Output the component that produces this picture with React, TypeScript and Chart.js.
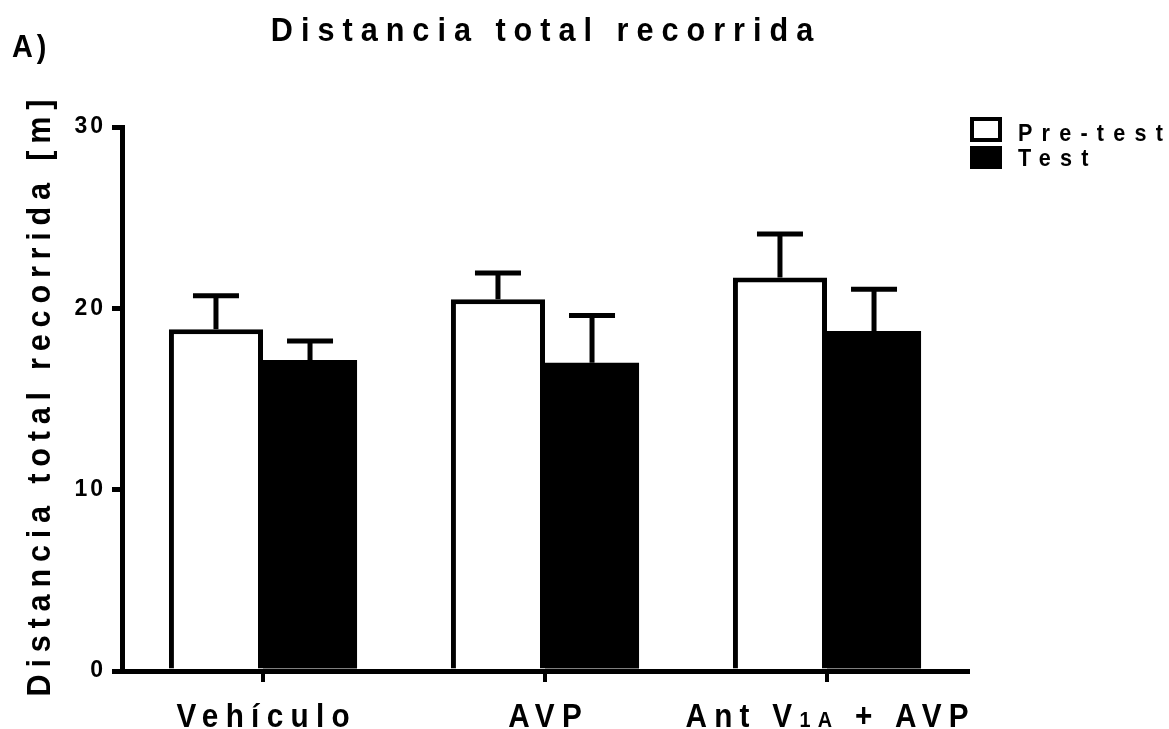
import React, { useEffect, useRef } from "react";
import { Chart, registerables } from "chart.js";

Chart.register(...registerables);

const categories = ["Vehículo", "AVP", "Ant V1A + AVP"];
const preTestMeans = [18.85, 20.5, 21.7];
const preTestSem = [1.85, 1.45, 2.4];
const testMeans = [17.15, 17.0, 18.75];
const testSem = [1.05, 2.6, 2.3];
const yTicks = [0, 10, 20, 30];
const titleText = "Distancia total recorrida";
const yTitleText = "Distancia total recorrida [m]";
const panelLabel = "A)";
const legendLabels = ["Pre-test", "Test"];
// x label pieces: [text, isSmall]
const xLabelParts: [string, boolean][][] = [
  [["Vehículo", false]],
  [["AVP", false]],
  [["Ant V", false], ["1A", true], [" + AVP", false]],
];

const FONT = "'Liberation Sans', Arial, sans-serif";
const SX = 0.9;

function measureParts(ctx: CanvasRenderingContext2D, parts: { t: string; size: number }[], ls: number) {
  let total = 0;
  const ws: number[] = [];
  parts.forEach((p) => {
    ctx.font = `bold ${p.size}px ${FONT}`;
    ctx.letterSpacing = `${ls / SX}px`;
    const w = ctx.measureText(p.t).width * SX;
    ws.push(w);
    total += w;
  });
  return { total: total - ls, ws };
}

function drawParts(
  ctx: CanvasRenderingContext2D,
  parts: { t: string; size: number }[],
  x: number,
  y: number,
  ls: number,
  align: "left" | "center"
) {
  const { total, ws } = measureParts(ctx, parts, ls);
  let cx = align === "center" ? x - total / 2 : x;
  parts.forEach((p, i) => {
    ctx.save();
    ctx.font = `bold ${p.size}px ${FONT}`;
    ctx.letterSpacing = `${ls / SX}px`;
    ctx.textAlign = "left";
    ctx.textBaseline = "alphabetic";
    ctx.fillStyle = "#000";
    ctx.translate(cx, y);
    ctx.scale(SX, 1);
    ctx.fillText(p.t, 0, 0);
    ctx.restore();
    cx += ws[i];
  });
}

const decorPlugin = {
  id: "decor",
  beforeDraw(chart: any) {
    chart.ctx.letterSpacing = "3px";
  },
  afterDatasetsDraw(chart: any) {
    const ctx = chart.ctx as CanvasRenderingContext2D;
    const y = chart.scales.y;
    const sets = [
      { means: preTestMeans, sem: preTestSem },
      { means: testMeans, sem: testSem },
    ];
    ctx.save();
    ctx.strokeStyle = "#000";
    ctx.lineWidth = 5;
    ctx.lineCap = "butt";
    sets.forEach((s, di) => {
      const meta = chart.getDatasetMeta(di);
      meta.data.forEach((bar: any, j: number) => {
        const top = y.getPixelForValue(s.means[j]);
        const err = y.getPixelForValue(s.means[j] + s.sem[j]);
        ctx.beginPath();
        ctx.moveTo(bar.x, top);
        ctx.lineTo(bar.x, err);
        ctx.moveTo(bar.x - 23, err);
        ctx.lineTo(bar.x + 23, err);
        ctx.stroke();
      });
    });
    ctx.restore();
  },
  afterDraw(chart: any) {
    const ctx = chart.ctx as CanvasRenderingContext2D;
    const xs = chart.scales.x;
    ctx.save();
    // Title
    drawParts(ctx, [{ t: titleText, size: 34 }], 542, 41, 8, "center");
    // Panel label
    drawParts(ctx, [{ t: panelLabel, size: 32 }], 12, 57, 4, "left");
    // Y title
    ctx.save();
    ctx.translate(50, 398);
    ctx.rotate(-Math.PI / 2);
    drawParts(ctx, [{ t: yTitleText, size: 34 }], 0, 0, 6.8, "center");
    ctx.restore();
    // X labels
    xLabelParts.forEach((parts, i) => {
      const px = xs.getPixelForValue(i);
      drawParts(
        ctx,
        parts.map(([t, small]) => ({ t, size: small ? 22 : 33 })),
        px,
        727,
        7.3,
        "center"
      );
    });
    // Legend
    ctx.strokeStyle = "#000";
    ctx.fillStyle = "#000";
    ctx.lineWidth = 4;
    ctx.strokeRect(972, 119, 28, 21);
    ctx.fillRect(970, 146, 32, 23);
    drawParts(ctx, [{ t: legendLabels[0], size: 24 }], 1018, 141, 9.2, "left");
    drawParts(ctx, [{ t: legendLabels[1], size: 24 }], 1018, 166, 9.2, "left");
    ctx.restore();
  },
};

export default function App() {
  const ref = useRef<HTMLCanvasElement>(null);
  useEffect(() => {
    if (!ref.current) return;
    const chart = new Chart(ref.current, {
      type: "bar",
      data: {
        labels: categories,
        datasets: [
          {
            label: legendLabels[0],
            data: preTestMeans,
            backgroundColor: "#ffffff",
            borderColor: "#000000",
            borderWidth: 5,
            categoryPercentage: 0.667,
            barPercentage: 1.0,
          },
          {
            label: legendLabels[1],
            data: testMeans,
            backgroundColor: "#000000",
            borderColor: "#000000",
            borderWidth: 0,
            categoryPercentage: 0.667,
            barPercentage: 1.0,
          },
        ],
      },
      options: {
        responsive: false,
        animation: false,
        devicePixelRatio: 1,
        layout: { padding: { left: 0, top: 127, right: 201, bottom: 0 } },
        plugins: {
          legend: { display: false },
          title: { display: false },
          tooltip: { enabled: false },
        },
        scales: {
          x: {
            grid: {
              display: true,
              drawOnChartArea: false,
              drawTicks: true,
              tickLength: 11,
              lineWidth: 4,
              color: "#000",
              offset: false,
            },
            border: { display: true, width: 5, color: "#000" },
            ticks: { display: false },
            afterFit: (s: any) => {
              s.height = 58;
            },
          },
          y: {
            min: 0,
            max: 30,
            afterBuildTicks: (s: any) => {
              s.ticks = yTicks.map((v) => ({ value: v }));
            },
            ticks: {
              stepSize: 10,
              color: "#000",
              padding: 6,
              font: { family: FONT, size: 23, weight: "bold" },
            },
            grid: {
              display: true,
              drawOnChartArea: false,
              drawTicks: true,
              tickLength: 10,
              lineWidth: 5,
              color: "#000",
            },
            border: { display: true, width: 5, color: "#000" },
            afterFit: (s: any) => {
              s.width = 122;
            },
          },
        },
      },
      plugins: [decorPlugin],
    });
    return () => chart.destroy();
  }, []);
  return (
    <div style={{ position: "fixed", left: 0, top: 0, width: 1169, height: 729, background: "#fff" }}>
      <canvas ref={ref} width={1169} height={729} style={{ display: "block" }} />
    </div>
  );
}
